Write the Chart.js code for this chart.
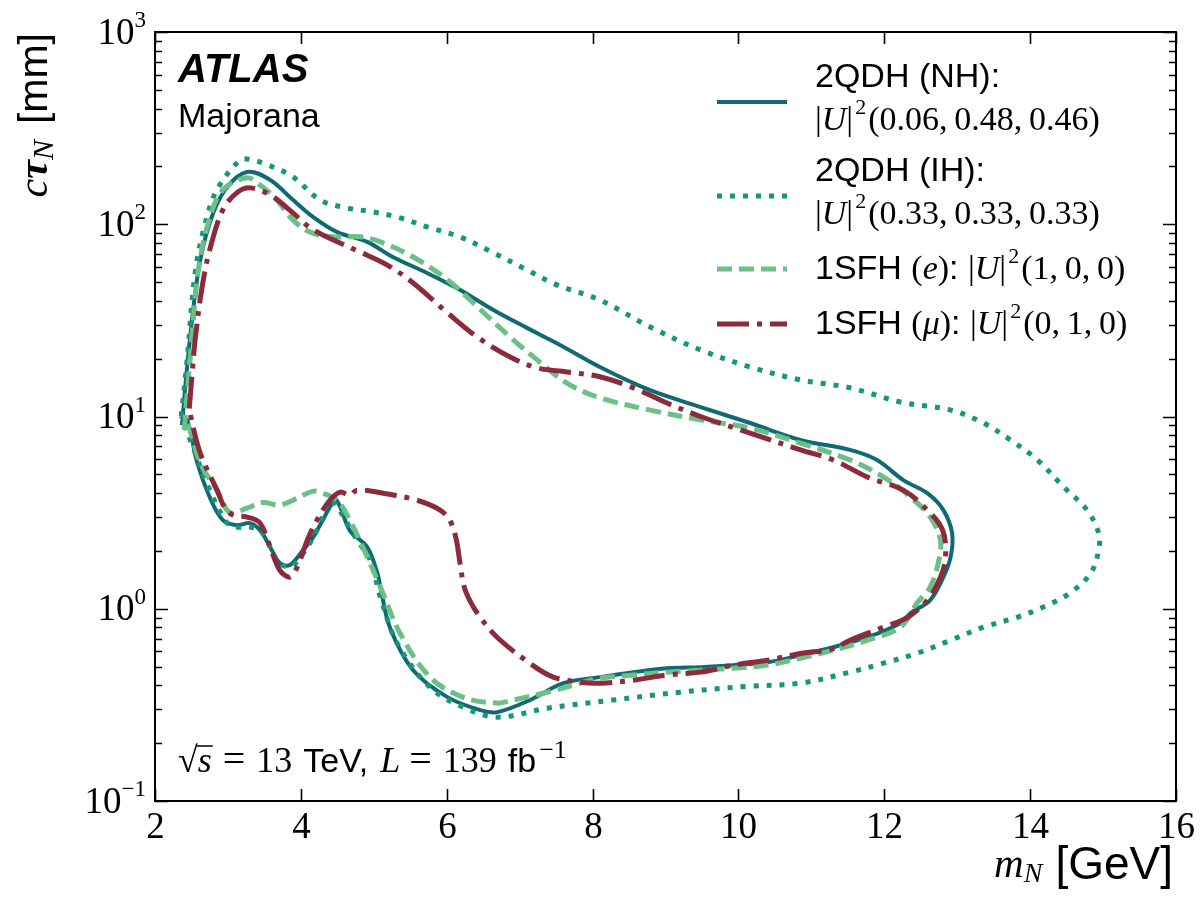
<!DOCTYPE html>
<html>
<head>
<meta charset="utf-8">
<script src="https://cdn.jsdelivr.net/npm/chart.js@4.4.1/dist/chart.umd.min.js"></script>
<style>
  html, body { margin: 0; padding: 0; background: #ffffff; }
  #wrap { width: 1202px; height: 898px; }
</style>
</head>
<body>
<div id="wrap"><canvas id="contours" width="1202" height="898"></canvas></div>
<script>
// axis ranges and tick values
const xTicks = [2, 4, 6, 8, 10, 12, 14, 16];
const yDecades = [0.1, 1, 10, 100, 1000];

// 2QDH (NH) contour, m_N [GeV] vs c tau [mm]
const nhX = [2.37, 2.45, 2.59, 2.75, 2.96, 3.26, 3.58, 3.89, 4.17, 4.50, 4.91, 5.26, 5.73, 6.18, 6.64, 7.10, 7.56, 8.10, 8.79, 9.48, 10.16, 10.85, 11.53, 11.90, 12.26, 12.59, 12.81, 12.93, 12.91, 12.81, 12.63, 12.36, 12.22, 11.77, 11.30, 10.85, 10.40, 9.93, 9.48, 9.02, 8.56, 8.10, 7.60, 7.14, 6.69, 6.46, 6.01, 5.54, 5.22, 5.09, 5.05, 4.91, 4.67, 4.54, 4.47, 4.30, 4.17, 4.03, 3.85, 3.71, 3.58, 3.44, 3.30, 3.12, 2.93, 2.75, 2.58, 2.44, 2.37];
const nhY = [9.0, 19.7, 55.8, 101.6, 151, 187, 170, 134, 109, 91, 81, 67.6, 55.8, 45.6, 35.8, 28.9, 23.5, 18.1, 13.7, 11.2, 9.25, 7.55, 6.7, 5.94, 4.67, 3.99, 3.26, 2.47, 1.86, 1.46, 1.11, 0.949, 0.841, 0.711, 0.631, 0.573, 0.527, 0.509, 0.497, 0.49, 0.468, 0.441, 0.410, 0.335, 0.290, 0.297, 0.347, 0.479, 0.802, 1.30, 1.53, 2.09, 2.56, 3.38, 3.67, 2.89, 2.36, 2.02, 1.69, 1.73, 2.09, 2.56, 2.79, 2.72, 2.89, 3.81, 5.73, 9.6, 9.0];

// 2QDH (IH)
const ihX = [2.36, 2.44, 2.55, 2.69, 2.85, 3.17, 3.33, 3.54, 3.89, 4.26, 4.63, 4.99, 5.36, 5.73, 6.18, 6.64, 7.10, 7.51, 8.10, 8.79, 9.48, 10.16, 10.85, 11.53, 12.22, 12.91, 13.36, 13.73, 14.10, 14.46, 14.78, 14.94, 14.94, 14.83, 14.55, 14.18, 13.82, 13.36, 12.91, 12.45, 11.99, 11.53, 10.85, 10.12, 9.20, 8.28, 7.38, 6.69, 6.22, 5.77, 5.32, 5.09, 4.95, 4.77, 4.50, 4.40, 4.22, 4.03, 3.85, 3.67, 3.48, 3.30, 3.12, 2.99, 2.75, 2.52, 2.36];
const ihY = [10, 19.7, 55.8, 101.6, 151, 216, 216, 204, 176.5, 134, 121.6, 116, 108, 96.9, 86, 71, 57.9, 48.4, 40.4, 29.2, 22.2, 18.1, 15.5, 14.1, 11.9, 10.8, 9.25, 7.55, 5.94, 4.30, 3.26, 2.47, 2.02, 1.53, 1.21, 1.02, 0.903, 0.802, 0.686, 0.587, 0.521, 0.468, 0.410, 0.395, 0.368, 0.335, 0.304, 0.273, 0.308, 0.391, 0.662, 1.15, 1.79, 2.28, 3.38, 3.67, 2.56, 1.94, 1.65, 1.79, 2.47, 2.66, 2.66, 2.79, 4.14, 6.93, 10];

// 1SFH (e)
const eX = [2.40, 2.48, 2.59, 2.73, 2.93, 3.26, 3.44, 3.67, 3.89, 4.13, 4.44, 4.81, 5.09, 5.54, 6.01, 6.42, 6.87, 7.24, 7.65, 8.10, 8.79, 9.48, 10.16, 10.85, 11.53, 11.99, 12.36, 12.63, 12.77, 12.74, 12.63, 12.45, 12.22, 11.77, 11.30, 10.85, 10.40, 9.93, 9.48, 9.02, 8.56, 8.10, 7.83, 7.38, 6.91, 6.69, 6.22, 5.77, 5.36, 5.09, 5.05, 4.85, 4.67, 4.50, 4.30, 4.17, 3.89, 3.71, 3.48, 3.26, 3.03, 2.85, 2.62, 2.45, 2.40];
const eY = [8.5, 19.7, 55.8, 101.6, 151, 174.5, 160, 134, 105.4, 91, 86, 86, 81, 67.6, 51.4, 37.2, 25.9, 19.7, 14.9, 12.5, 10.8, 9.6, 8.7, 7.27, 5.94, 4.84, 3.81, 3.0, 2.28, 1.73, 1.30, 1.07, 0.802, 0.686, 0.608, 0.553, 0.509, 0.491, 0.479, 0.468, 0.452, 0.436, 0.410, 0.368, 0.335, 0.323, 0.347, 0.441, 0.746, 1.30, 1.41, 2.09, 2.89, 3.67, 3.99, 4.09, 3.67, 3.46, 3.57, 3.34, 3.15, 4.14, 5.73, 9.1, 8.5];

// 1SFH (mu)
const muX = [2.47, 2.51, 2.55, 2.64, 2.75, 2.93, 3.12, 3.30, 3.58, 3.89, 4.13, 4.44, 4.81, 5.18, 5.54, 6.01, 6.42, 6.87, 7.24, 7.65, 8.10, 8.56, 9.02, 9.48, 10.16, 10.85, 11.30, 11.77, 12.26, 12.59, 12.80, 12.84, 12.77, 12.59, 12.32, 11.99, 11.53, 11.30, 10.85, 10.40, 9.93, 9.48, 9.02, 8.56, 8.10, 7.83, 7.46, 7.14, 6.69, 6.46, 6.33, 6.24, 6.18, 6.13, 6.05, 5.91, 5.59, 5.13, 4.77, 4.67, 4.54, 4.40, 4.22, 4.09, 3.95, 3.85, 3.71, 3.58, 3.44, 3.26, 3.07, 2.96, 2.85, 2.62, 2.48, 2.47];
const muY = [11, 16.8, 25.0, 45.6, 73.6, 118.8, 145.6, 154.6, 142, 114.6, 95.8, 83, 71.8, 61.5, 49.5, 34.6, 25.9, 20.4, 17.9, 17.06, 16.1, 14.1, 11.75, 10.0, 8.2, 6.7, 5.94, 4.84, 4.14, 3.26, 2.56, 1.86, 1.46, 1.11, 0.903, 0.802, 0.686, 0.62, 0.585, 0.54, 0.509, 0.468, 0.452, 0.425, 0.410, 0.415, 0.441, 0.52, 0.711, 0.903, 1.08, 1.3, 1.75, 2.3, 2.85, 3.26, 3.67, 3.99, 4.14, 3.90, 4.04, 3.67, 2.89, 2.28, 1.65, 1.46, 1.59, 2.09, 2.79, 3.0, 3.07, 3.34, 4.14, 6.45, 10.4, 11];

const SERIF = '"Liberation Serif", "DejaVu Serif", serif';
const SANS = '"Liberation Sans", Arial, sans-serif';

function pts(xs, ys) {
    const n = Math.min(xs.length, ys.length);
    const out = [];
    for (let i = 0; i < n; i++) out.push({ x: xs[i], y: ys[i] });
    return out;
}

// draws a row of text pieces with different fonts, like mathtext
function drawRich(ctx, segs, x, y, align) {
    let total = 0;
    segs.forEach(s => { ctx.font = s.f; s.w = ctx.measureText(s.t).width; total += s.w + (s.gap || 0); });
    let cx = align === 'right' ? x - total : (align === 'center' ? x - total / 2 : x);
    segs.forEach(s => {
        ctx.font = s.f;
        ctx.fillText(s.t, cx, y + (s.dy || 0));
        if (s.over) {
            ctx.save();
            ctx.lineWidth = 1.5;
            ctx.beginPath();
            ctx.moveTo(cx - 1, y - 26);
            ctx.lineTo(cx + s.w + 1, y - 26);
            ctx.stroke();
            ctx.restore();
        }
        cx += s.w + (s.gap || 0);
    });
}

const sup = (t) => ({ t: t, f: '22px ' + SERIF, dy: -13, gap: 2 });

const framePlugin = {
    id: 'frame',
    afterDraw(chart) {
        const ctx = chart.ctx;
        const a = chart.chartArea;
        const xs = chart.scales.x, ys = chart.scales.y;
        ctx.save();
        ctx.strokeStyle = '#000';
        ctx.fillStyle = '#000';

        // frame
        ctx.lineWidth = 2;
        ctx.strokeRect(a.left, a.top, a.right - a.left, a.bottom - a.top);

        // x ticks, inward on bottom and top
        ctx.lineWidth = 1.6;
        ctx.textAlign = 'left';
        ctx.textBaseline = 'middle';
        xTicks.forEach(v => {
            const px = Math.round(xs.getPixelForValue(v)) + 0.5;
            ctx.beginPath();
            ctx.moveTo(px, a.bottom); ctx.lineTo(px, a.bottom - 12);
            ctx.moveTo(px, a.top); ctx.lineTo(px, a.top + 12);
            ctx.stroke();
            drawRich(ctx, [{ t: String(v), f: '37px ' + SERIF }], px, 828, 'center');
        });

        // y ticks: decades major, 2..9 minor
        yDecades.forEach(d => {
            for (let m = 1; m <= 9; m++) {
                const v = d * m;
                if (v < ys.min * 0.999 || v > ys.max * 1.001) continue;
                const py = Math.round(ys.getPixelForValue(v)) + 0.5;
                const len = m === 1 ? 13 : 7;
                ctx.beginPath();
                ctx.moveTo(a.left, py); ctx.lineTo(a.left + len, py);
                ctx.moveTo(a.right, py); ctx.lineTo(a.right - len, py);
                ctx.stroke();
            }
            const py = ys.getPixelForValue(d);
            const e = Math.round(Math.log10(d));
            drawRich(ctx, [
                { t: '10', f: '37px ' + SERIF },
                { t: e < 0 ? '\u2212' + (-e) : String(e), f: '23px ' + SERIF, dy: -13 }
            ], 146, py + 2, 'right');
        });

        // axis titles
        ctx.textBaseline = 'middle';
        drawRich(ctx, [
            { t: 'm', f: 'italic 41px ' + SERIF },
            { t: 'N', f: 'italic 28px ' + SERIF, dy: 9, gap: 13 },
            { t: '[GeV]', f: '46px ' + SANS }
        ], 1173, 866, 'right');

        ctx.save();
        ctx.translate(36, 33);
        ctx.rotate(-Math.PI / 2);
        drawRich(ctx, [
            { t: 'c', f: 'italic 42px ' + SERIF },
            { t: '\u03c4', f: 'italic bold 42px ' + SERIF },
            { t: 'N', f: 'italic 30px ' + SERIF, dy: 9, gap: 16 },
            { t: '[mm]', f: '41px ' + SANS }
        ], 0, 0, 'right');
        ctx.restore();

        // ATLAS label
        ctx.textBaseline = 'alphabetic';
        drawRich(ctx, [{ t: 'ATLAS', f: 'italic bold 40px ' + SANS }], 178, 82, 'left');
        drawRich(ctx, [{ t: 'Majorana', f: '34px ' + SANS }], 178, 127, 'left');

        // energy / luminosity
        drawRich(ctx, [
            { t: '\u221a', f: '36px ' + SERIF },
            { t: 's', f: 'italic 36px ' + SERIF, over: true, gap: 11 },
            { t: '=', f: '40px ' + SERIF, gap: 11 },
            { t: '13', f: '36px ' + SERIF, gap: 11 },
            { t: 'TeV,', f: '34px ' + SANS, gap: 12 },
            { t: 'L', f: 'italic 36px ' + SERIF, gap: 9 },
            { t: '=', f: '40px ' + SERIF, gap: 11 },
            { t: '139', f: '36px ' + SERIF, gap: 11 },
            { t: 'fb', f: '34px ' + SANS, gap: 3 },
            { t: '\u22121', f: '26px ' + SERIF, dy: -14 }
        ], 178, 772, 'left');

        // legend
        const ds = chart.data.datasets;
        const lineY = [102, 196, 269, 324];
        ds.forEach((d, i) => {
            ctx.save();
            ctx.strokeStyle = d.borderColor;
            ctx.lineWidth = d.borderWidth;
            ctx.lineCap = 'butt';
            ctx.setLineDash(d.borderDash || []);
            ctx.beginPath();
            ctx.moveTo(717, lineY[i]); ctx.lineTo(787, lineY[i]);
            ctx.stroke();
            ctx.restore();
        });
        ctx.textBaseline = 'middle';
        const U = [
            { t: '|', f: '34px ' + SERIF },
            { t: 'U', f: 'italic 34px ' + SERIF },
            { t: '|', f: '34px ' + SERIF, gap: 2 },
            sup('2')
        ];
        drawRich(ctx, [{ t: '2QDH (NH):', f: '34px ' + SANS }], 815, 78, 'left');
        drawRich(ctx, U.concat([{ t: '(0.06,\u20090.48,\u20090.46)', f: '34px ' + SERIF }]), 815, 121, 'left');
        drawRich(ctx, [{ t: '2QDH (IH):', f: '34px ' + SANS }], 815, 172, 'left');
        drawRich(ctx, U.concat([{ t: '(0.33,\u20090.33,\u20090.33)', f: '34px ' + SERIF }]), 815, 215, 'left');
        drawRich(ctx, [
            { t: '1SFH ', f: '34px ' + SANS },
            { t: '(', f: '34px ' + SERIF },
            { t: 'e', f: 'italic 34px ' + SERIF },
            { t: ')', f: '34px ' + SERIF },
            { t: ': ', f: '34px ' + SANS }
        ].concat(U, [{ t: '(1,\u20090,\u20090)', f: '34px ' + SERIF }]), 815, 270, 'left');
        drawRich(ctx, [
            { t: '1SFH ', f: '34px ' + SANS },
            { t: '(', f: '34px ' + SERIF },
            { t: '\u03bc', f: 'italic 34px ' + SERIF },
            { t: ')', f: '34px ' + SERIF },
            { t: ': ', f: '34px ' + SANS }
        ].concat(U, [{ t: '(0,\u20091,\u20090)', f: '34px ' + SERIF }]), 815, 325, 'left');

        ctx.restore();
    }
};

new Chart(document.getElementById('contours'), {
    type: 'scatter',
    data: {
        datasets: [
            {
                label: '2QDH (NH)',
                data: pts(nhX, nhY),
                showLine: true,
                borderColor: '#0f6a73',
                borderWidth: 4,
                tension: 0.35,
                pointRadius: 0,
                order: 4
            },
            {
                label: '2QDH (IH)',
                data: pts(ihX, ihY),
                showLine: true,
                borderColor: '#17977a',
                borderWidth: 5,
                borderDash: [5, 8],
                tension: 0.35,
                pointRadius: 0,
                order: 3
            },
            {
                label: '1SFH (e)',
                data: pts(eX, eY),
                showLine: true,
                borderColor: '#6cbf86',
                borderWidth: 5,
                borderDash: [15, 7],
                tension: 0.35,
                pointRadius: 0,
                order: 2
            },
            {
                label: '1SFH (mu)',
                data: pts(muX, muY),
                showLine: true,
                borderColor: '#8b2b3b',
                borderWidth: 5,
                borderDash: [32, 8, 5, 8],
                tension: 0.35,
                pointRadius: 0,
                order: 1
            }
        ]
    },
    options: {
        responsive: false,
        animation: false,
        layout: { padding: { left: 0, top: 32, right: 26, bottom: 0 } },
        plugins: {
            legend: { display: false },
            tooltip: { enabled: false }
        },
        scales: {
            x: {
                type: 'linear',
                min: 2,
                max: 16,
                grid: { display: false },
                border: { display: false },
                ticks: { display: false, stepSize: 2 },
                afterFit: s => { s.height = 97; }
            },
            y: {
                type: 'logarithmic',
                min: 0.1,
                max: 1000,
                grid: { display: false },
                border: { display: false },
                ticks: { display: false },
                afterFit: s => { s.width = 155; }
            }
        }
    },
    plugins: [framePlugin]
});
</script>
</body>
</html>
